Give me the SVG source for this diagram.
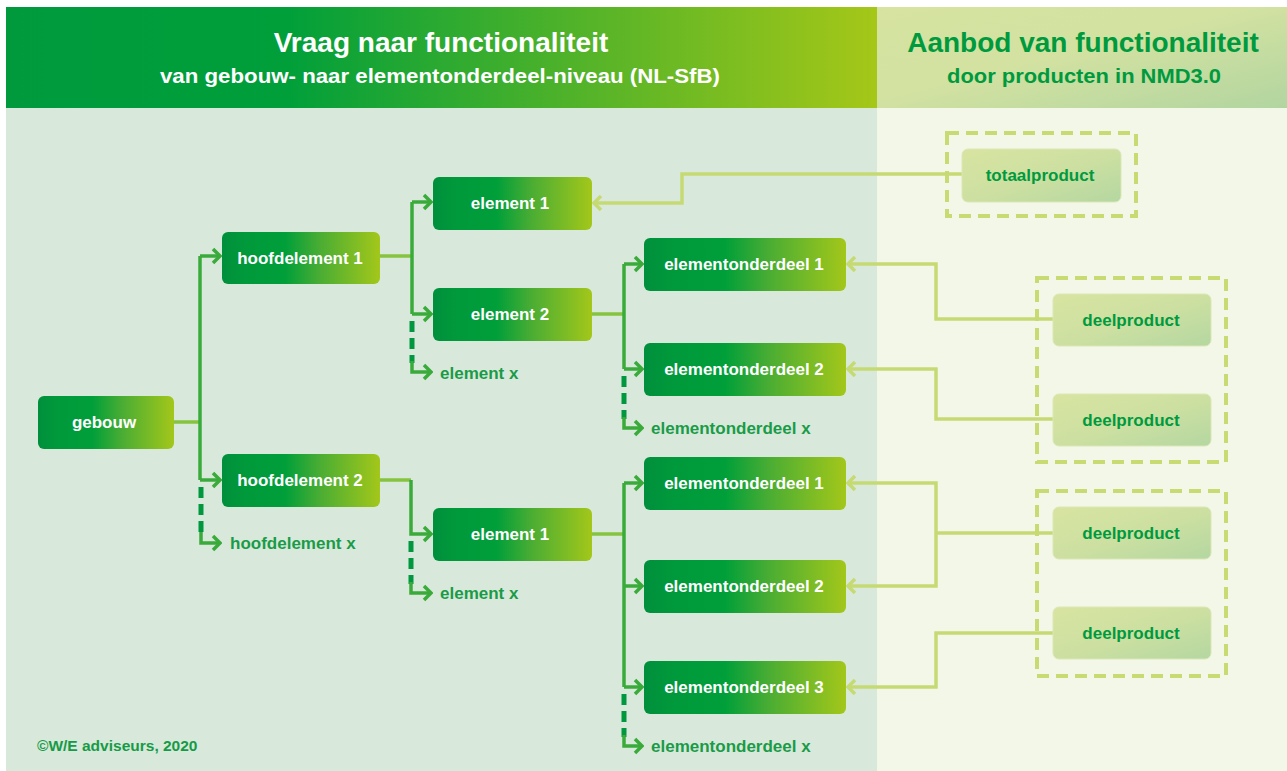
<svg xmlns="http://www.w3.org/2000/svg" width="1287" height="771" viewBox="0 0 1287 771">
<defs>
  <linearGradient id="hdrL" x1="6" y1="0" x2="877" y2="0" gradientUnits="userSpaceOnUse">
    <stop offset="0" stop-color="#009a3d"/>
    <stop offset="0.32" stop-color="#009f3a"/>
    <stop offset="1" stop-color="#a5c718"/>
  </linearGradient>
  <linearGradient id="hdrR" x1="0" y1="0" x2="1" y2="1">
    <stop offset="0" stop-color="#d6e3a1"/>
    <stop offset="0.45" stop-color="#d3e2a1"/>
    <stop offset="1" stop-color="#b2d5a0"/>
  </linearGradient>
  <linearGradient id="nodeG" x1="0" y1="0" x2="1" y2="0">
    <stop offset="0" stop-color="#008f3c"/>
    <stop offset="0.12" stop-color="#00983b"/>
    <stop offset="0.4" stop-color="#009f3a"/>
    <stop offset="0.62" stop-color="#4aad33"/>
    <stop offset="1" stop-color="#a3c71a"/>
  </linearGradient>
  <linearGradient id="prodG" x1="0" y1="0" x2="1" y2="1">
    <stop offset="0" stop-color="#d8e4a1"/>
    <stop offset="0.5" stop-color="#cde0a1"/>
    <stop offset="1" stop-color="#b4d7a1"/>
  </linearGradient>
  <marker id="arrD" viewBox="-10 -9 12 18" refX="0" refY="0" markerWidth="12" markerHeight="18" markerUnits="userSpaceOnUse" orient="auto">
    <path d="M-7,-7 L0,0 L-7,7" fill="none" stroke="#3aab3a" stroke-width="3.5"/>
  </marker>
  <marker id="arrL" viewBox="-10 -9 12 18" refX="0" refY="0" markerWidth="12" markerHeight="18" markerUnits="userSpaceOnUse" orient="auto">
    <path d="M-7,-7 L0,0 L-7,7" fill="none" stroke="#c6da73" stroke-width="3.5"/>
  </marker>
</defs>
<style>
  .node rect { fill: url(#nodeG); }
  .node text { fill: #ffffff; font-family: "Liberation Sans", Arial, sans-serif; font-weight: bold; font-size: 17px; text-anchor: middle; }
  .prod rect { fill: url(#prodG); stroke: #dbe7b5; stroke-width: 1; }
  .prod text { fill: #009a3e; font-family: "Liberation Sans", Arial, sans-serif; font-weight: bold; font-size: 17px; text-anchor: middle; }
  .xlabel { fill: #1a9b47; font-family: "Liberation Sans", Arial, sans-serif; font-weight: bold; font-size: 17px; }
  .stub { fill: none; stroke: #86c33f; stroke-width: 3.5; }
  .tree { fill: none; stroke: #3aab3a; stroke-width: 3.5; }
  .dash { fill: none; stroke: #00973f; stroke-width: 5; stroke-dasharray: 11 6; }
  .light { fill: none; stroke: #c6da73; stroke-width: 3.5; }
  .dbox { fill: none; stroke: #c8db72; stroke-width: 4; stroke-dasharray: 12 7; }
  .hdr { font-family: "Liberation Sans", Arial, sans-serif; font-weight: bold; text-anchor: middle; }
</style>

<!-- background -->
<rect x="0" y="0" width="1287" height="771" fill="#ffffff"/>
<rect x="6" y="108" width="871" height="663" fill="#d8e9dc"/>
<rect x="877" y="108" width="410" height="663" fill="#f3f7e8"/>
<rect x="6" y="7" width="871" height="101" fill="url(#hdrL)"/>
<rect x="877" y="7" width="410" height="101" fill="url(#hdrR)"/>

<g id="header-left">
  <text class="hdr" x="441" y="52" font-size="28" fill="#ffffff">Vraag naar functionaliteit</text>
  <text class="hdr" x="440" y="83" font-size="20" fill="#ffffff" textLength="560" lengthAdjust="spacingAndGlyphs">van gebouw- naar elementonderdeel-niveau (NL-SfB)</text>
</g>
<g id="header-right">
  <text class="hdr" x="1083" y="52" font-size="28" fill="#009a3e">Aanbod van functionaliteit</text>
  <text class="hdr" x="1084" y="83" font-size="21" fill="#009a3e" textLength="274" lengthAdjust="spacingAndGlyphs">door producten in NMD3.0</text>
</g>

<!-- dashed product groups -->
<g id="group-totaal"><rect class="dbox" x="947" y="133" width="189" height="83"/></g>
<g id="group-deel-1"><rect class="dbox" x="1037" y="278" width="189" height="184"/></g>
<g id="group-deel-2"><rect class="dbox" x="1037" y="491" width="189" height="185"/></g>

<!-- connectors -->
<g id="connectors">
  <!-- gebouw -> hoofdelementen -->
  <path class="stub" d="M174,422 H200"/>
  <path class="tree" d="M200,256 V480"/>
  <path class="tree" d="M200,256 H220" marker-end="url(#arrD)"/>
  <path class="tree" d="M200,480 H220" marker-end="url(#arrD)"/>
  <path class="dash" d="M201,487 V534"/>
  <path class="tree" d="M201,532 V543 H220" marker-end="url(#arrD)"/>

  <!-- hoofdelement 1 -> elementen -->
  <path class="stub" d="M380,256 H412"/>
  <path class="tree" d="M412,202 V314"/>
  <path class="tree" d="M412,202 H431" marker-end="url(#arrD)"/>
  <path class="tree" d="M412,314 H431" marker-end="url(#arrD)"/>
  <path class="dash" d="M412,321 V363"/>
  <path class="tree" d="M412,361 V372 H431" marker-end="url(#arrD)"/>

  <!-- element 2 -> elementonderdelen -->
  <path class="stub" d="M592,314 H624"/>
  <path class="tree" d="M624,264 V369"/>
  <path class="tree" d="M624,264 H642" marker-end="url(#arrD)"/>
  <path class="tree" d="M624,369 H642" marker-end="url(#arrD)"/>
  <path class="dash" d="M624,376 V419"/>
  <path class="tree" d="M624,417 V428 H642" marker-end="url(#arrD)"/>

  <!-- hoofdelement 2 -> element 1 -->
  <path class="stub" d="M380,480 H411"/>
  <path class="tree" d="M411,480 V534 H431" marker-end="url(#arrD)"/>
  <path class="dash" d="M411,541 V584"/>
  <path class="tree" d="M411,582 V593 H431" marker-end="url(#arrD)"/>

  <!-- element 1 (onder) -> elementonderdelen -->
  <path class="stub" d="M592,534 H624"/>
  <path class="tree" d="M624,483 V687"/>
  <path class="tree" d="M624,483 H642" marker-end="url(#arrD)"/>
  <path class="tree" d="M624,586 H642" marker-end="url(#arrD)"/>
  <path class="tree" d="M624,687 H642" marker-end="url(#arrD)"/>
  <path class="dash" d="M624,694 V737"/>
  <path class="tree" d="M624,735 V746 H642" marker-end="url(#arrD)"/>

  <!-- products -> demand -->
  <path class="light" d="M962,174 H682 V203 H594" marker-end="url(#arrL)"/>
  <path class="light" d="M1053,319 H936 V264 H848" marker-end="url(#arrL)"/>
  <path class="light" d="M1053,419 H936 V369 H848" marker-end="url(#arrL)"/>
  <path class="light" d="M1053,533 H936"/>
  <path class="light" d="M936,533 V483 H848" marker-end="url(#arrL)"/>
  <path class="light" d="M936,533 V586 H848" marker-end="url(#arrL)"/>
  <path class="light" d="M1053,633 H936 V687 H848" marker-end="url(#arrL)"/>
</g>

<!-- demand nodes -->
<g id="gebouw" class="node"><rect x="38" y="396" width="136" height="53" rx="6"/><text x="104" y="428">gebouw</text></g>
<g id="hoofdelement-1" class="node"><rect x="222" y="232" width="158" height="52" rx="6"/><text x="300" y="264">hoofdelement 1</text></g>
<g id="hoofdelement-2" class="node"><rect x="222" y="454" width="158" height="53" rx="6"/><text x="300" y="486">hoofdelement 2</text></g>
<g id="hoofdelement-x"><text class="xlabel" x="230" y="549">hoofdelement x</text></g>

<g id="element-1a" class="node"><rect x="433" y="177" width="159" height="53" rx="6"/><text x="510" y="209">element 1</text></g>
<g id="element-2a" class="node"><rect x="433" y="288" width="159" height="53" rx="6"/><text x="510" y="320">element 2</text></g>
<g id="element-xa"><text class="xlabel" x="440" y="379">element x</text></g>

<g id="element-1b" class="node"><rect x="433" y="508" width="159" height="53" rx="6"/><text x="510" y="540">element 1</text></g>
<g id="element-xb"><text class="xlabel" x="440" y="599">element x</text></g>

<g id="elementonderdeel-1a" class="node"><rect x="644" y="238" width="202" height="53" rx="6"/><text x="744" y="270">elementonderdeel 1</text></g>
<g id="elementonderdeel-2a" class="node"><rect x="644" y="343" width="202" height="53" rx="6"/><text x="744" y="375">elementonderdeel 2</text></g>
<g id="elementonderdeel-xa"><text class="xlabel" x="651" y="434">elementonderdeel x</text></g>

<g id="elementonderdeel-1b" class="node"><rect x="644" y="457" width="202" height="53" rx="6"/><text x="744" y="489">elementonderdeel 1</text></g>
<g id="elementonderdeel-2b" class="node"><rect x="644" y="560" width="202" height="53" rx="6"/><text x="744" y="592">elementonderdeel 2</text></g>
<g id="elementonderdeel-3b" class="node"><rect x="644" y="661" width="202" height="53" rx="6"/><text x="744" y="693">elementonderdeel 3</text></g>
<g id="elementonderdeel-xb"><text class="xlabel" x="651" y="752">elementonderdeel x</text></g>

<!-- supply nodes -->
<g id="totaalproduct" class="prod"><rect x="962" y="149" width="159" height="53" rx="6"/><text x="1040" y="181">totaalproduct</text></g>
<g id="deelproduct-1" class="prod"><rect x="1053" y="294" width="158" height="52" rx="6"/><text x="1131" y="326">deelproduct</text></g>
<g id="deelproduct-2" class="prod"><rect x="1053" y="394" width="158" height="52" rx="6"/><text x="1131" y="426">deelproduct</text></g>
<g id="deelproduct-3" class="prod"><rect x="1053" y="507" width="158" height="52" rx="6"/><text x="1131" y="539">deelproduct</text></g>
<g id="deelproduct-4" class="prod"><rect x="1053" y="607" width="158" height="52" rx="6"/><text x="1131" y="639">deelproduct</text></g>

<text x="37" y="751" fill="#159b45" font-family="Liberation Sans, Arial, sans-serif" font-weight="bold" font-size="15.5">©W/E adviseurs, 2020</text>
</svg>
